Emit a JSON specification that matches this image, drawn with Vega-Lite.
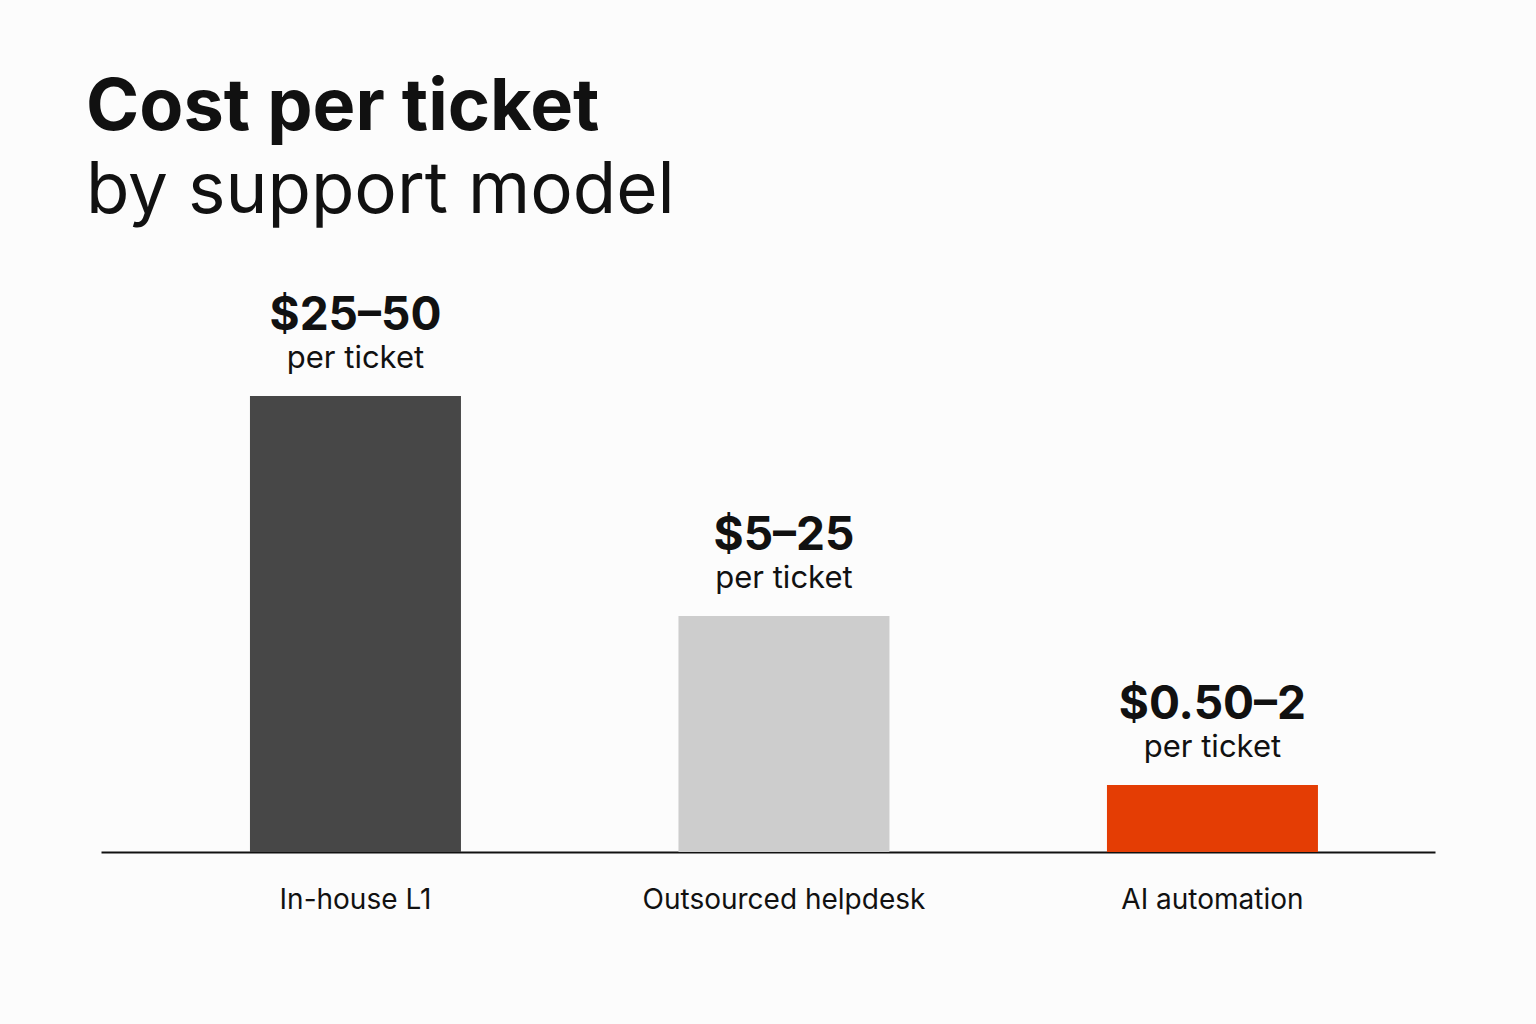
{
  "$schema": "https://vega.github.io/schema/vega-lite/v6.json",
  "background": "#fcfcfc",
  "autosize": "none",
  "padding": {"left": 101, "top": 252, "right": 101, "bottom": 172},
  "width": 1334,
  "height": 600,
  "title": {
    "text": "Cost per ticket",
    "subtitle": "by support model",
    "anchor": "start",
    "frame": "group",
    "dx": -15,
    "offset": 24,
    "font": "Inter",
    "fontSize": 72,
    "fontWeight": 700,
    "color": "#111111",
    "subtitleFont": "Inter",
    "subtitleFontSize": 71,
    "subtitleFontWeight": 400,
    "subtitleColor": "#111111",
    "subtitlePadding": 12
  },
  "data": {
    "values": [
      {"model": "In-house L1", "height": 45.6, "price": "$25–50", "unit": "per ticket"},
      {"model": "Outsourced helpdesk", "height": 23.6, "price": "$5–25", "unit": "per ticket"},
      {"model": "AI automation", "height": 6.7, "price": "$0.50–2", "unit": "per ticket"}
    ]
  },
  "encoding": {
    "x": {
      "field": "model",
      "type": "nominal",
      "sort": null,
      "scale": {"paddingInner": 0.5076, "paddingOuter": 0.3104, "align": 0.56},
      "axis": {
        "title": null,
        "domainColor": "#111111",
        "domainWidth": 2,
        "ticks": false,
        "labelAngle": 0,
        "labelLimit": 0,
        "labelFont": "Inter",
        "labelFontSize": 28,
        "labelColor": "#111111",
        "labelBaseline": "alphabetic",
        "labelPadding": 56
      }
    },
    "y": {
      "field": "height",
      "type": "quantitative",
      "scale": {"domain": [0, 60]},
      "axis": null
    }
  },
  "layer": [
    {
      "mark": {"type": "bar"},
      "encoding": {
        "color": {
          "field": "model",
          "type": "nominal",
          "scale": {
            "domain": ["In-house L1", "Outsourced helpdesk", "AI automation"],
            "range": ["#474747", "#cdcdcd", "#e43d04"]
          },
          "legend": null
        }
      }
    },
    {
      "mark": {
        "type": "text",
        "font": "Inter",
        "fontSize": 46,
        "fontWeight": 700,
        "color": "#111111",
        "baseline": "alphabetic",
        "dy": -66
      },
      "encoding": {"text": {"field": "price"}}
    },
    {
      "mark": {
        "type": "text",
        "font": "Inter",
        "fontSize": 31,
        "fontWeight": 400,
        "color": "#111111",
        "baseline": "alphabetic",
        "dy": -28
      },
      "encoding": {"text": {"field": "unit"}}
    }
  ],
  "config": {
    "view": {"stroke": null}
  }
}
